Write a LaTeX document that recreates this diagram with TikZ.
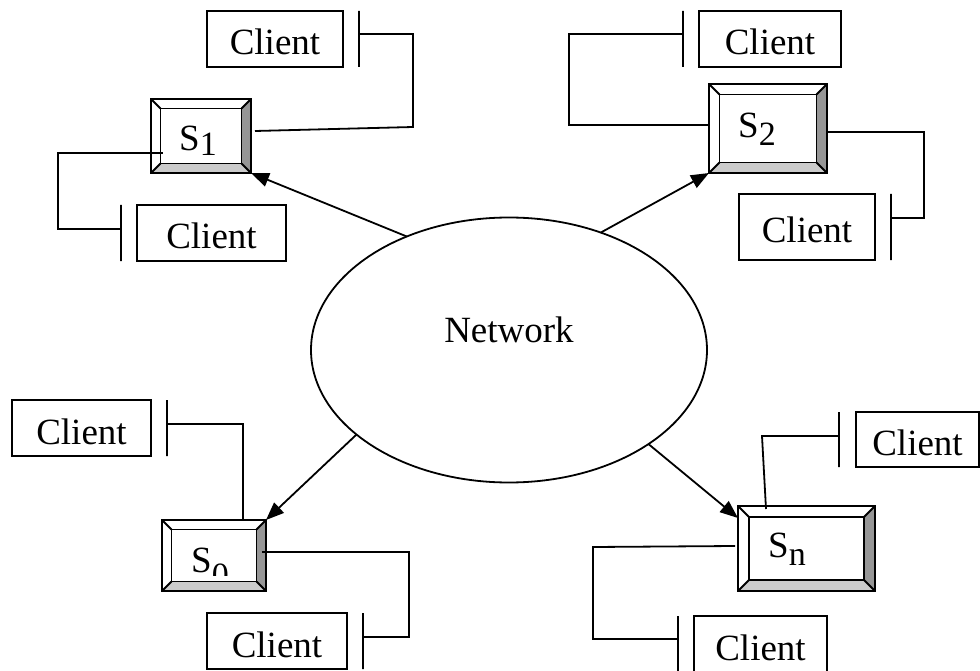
\documentclass[tikz,border=0pt]{standalone}
\usepackage{fontspec}
\setmainfont{Liberation Serif}
\usetikzlibrary{shapes.geometric,arrows.meta,calc}
\definecolor{bevdark}{HTML}{969696}
\definecolor{bevlight}{HTML}{CBCBCB}
\newcommand\bevelbox[2]{%
  \fill[bevdark] (#1.north east) -- (#1.south east) -- ([shift={(-#2,-#2)}]#1.south east) -- ([shift={(-#2,#2)}]#1.north east) -- cycle;
  \fill[bevlight] (#1.south west) -- (#1.south east) -- ([shift={(-#2,-#2)}]#1.south east) -- ([shift={(#2,-#2)}]#1.south west) -- cycle;
  \draw[boxline] ([shift={(#2,#2)}]#1.north west) rectangle ([shift={(-#2,-#2)}]#1.south east);
  \draw[boxline] (#1.north west) -- ([shift={(#2,#2)}]#1.north west)
                 (#1.north east) -- ([shift={(-#2,#2)}]#1.north east)
                 (#1.south west) -- ([shift={(#2,-#2)}]#1.south west)
                 (#1.south east) -- ([shift={(-#2,-#2)}]#1.south east);
  \draw[boxline] (#1.north west) rectangle (#1.south east);
}
\newcommand\subnum[2]{\raisebox{-#1pt}{\fontsize{34}{34}\selectfont #2}}
\begin{document}
\begin{tikzpicture}[x=1pt,y=-1pt,
  conn/.style={line width=1.8pt},
  boxline/.style={line width=1.8pt},
  client/.style={draw,line width=1.8pt,inner sep=0pt,outer sep=0pt,minimum height=56pt,text height=32pt,text depth=0pt,font=\fontsize{37}{40}\selectfont},
  bar/.style={draw,line width=1.8pt,inner sep=0pt,outer sep=0pt,minimum width=0pt,minimum height=56pt},
  server/.style={draw,line width=1.8pt,inner sep=0pt,outer sep=0pt},
  slabel/.style={anchor=base west,inner sep=0pt,font=\fontsize{37}{40}\selectfont},
  arr/.style={line width=1.8pt,-{Triangle[length=18pt,width=14pt]}},
]
\useasboundingbox (0,0) rectangle (980,671);
\clip (0,0) rectangle (980,671);

% network
\node[ellipse,draw,line width=1.8pt,minimum width=396pt,minimum height=265pt,inner sep=0pt,outer sep=0pt] (net) at (509,350) {};
\node[inner sep=0pt,font=\fontsize{37}{40}\selectfont,anchor=base] (nettext) at (509,342) {Network};

% servers
\node[server,minimum width=100pt,minimum height=74pt] (s1) at (201,136) {};
\node[server,minimum width=118pt,minimum height=89pt] (s2) at (768,128.5) {};
\node[server,minimum width=104pt,minimum height=71pt] (s0) at (214,555.5) {};
\node[server,minimum width=137pt,minimum height=85pt] (sn) at (806.5,548.5) {};
\bevelbox{s1}{9.5}
\bevelbox{s2}{10.5}
\bevelbox{s0}{9.5}
\bevelbox{sn}{11}
\node[slabel] (l1) at (179,151) {S\subnum{5}{1}};
\node[slabel] (l2) at (738,138) {S\subnum{8}{2}};
\begin{scope}
  \clip (172,529) rectangle (256,575);
  \node[slabel] (l0) at (191,572) {S\subnum{14}{0}};
\end{scope}
\node[slabel] (ln) at (768,557) {S\subnum{8}{n}};

% clients
\node[client,minimum width=136pt] (c1t) at (275,39) {Client};
\node[client,minimum width=149pt] (c1b) at (211.5,233) {Client};
\node[client,minimum width=142pt] (c2t) at (770,39) {Client};
\node[client,minimum width=136pt,minimum height=66pt] (c2b) at (807,227) {Client};
\node[client,minimum width=139pt] (c0t) at (81.5,428) {Client};
\node[client,minimum width=140pt] (c0b) at (277,641) {Client};
\node[client,minimum width=123pt,minimum height=55pt] (cnt) at (917.5,439.5) {Client};
\node[client,minimum width=133pt] (cnb) at (760.5,644) {Client};

% bars
\node[bar] (b1t) at (359,39) {};
\node[bar] (b1b) at (121,233) {};
\node[bar] (b2t) at (683,39) {};
\node[bar,minimum height=66pt] (b2b) at (891,227) {};
\node[bar] (b0t) at (167,428) {};
\node[bar] (b0b) at (363,641) {};
\node[bar,minimum height=55pt] (bnt) at (839,439.5) {};
\node[bar] (bnb) at (678,644) {};

% client connectors
\draw[conn] ($(b1t)+(0,-5)$) -- (413,34) -- (413,127) -- ($(s1.east)+(4,-5)$);
\draw[conn] ($(b1b)+(0,-4)$) -- (58,229) -- (58,153) -- ($(s1.west)+(12,17)$);
\draw[conn] ($(b2t)+(0,-5)$) -- (569,34) -- (569,125) -- ($(s2.west)+(0,-3.5)$);
\draw[conn] ($(b2b)+(0,-9)$) -- (924,218) -- (924,132) -- ($(s2.east)+(0,3.5)$);
\draw[conn] ($(b0t)+(0,-4)$) -- (243,424) -- ($(s0.north)+(29,0)$);
\draw[conn] ($(b0b)+(0,-4)$) -- (409,637) -- (409,552) -- ($(s0.east)+(-4,-3.5)$);
\draw[conn] ($(bnt)+(0,-3.5)$) -- (762,436) -- ($(sn.north)+(-40.5,3)$);
\draw[conn] ($(bnb)+(0,-5)$) -- (593,639) -- (593,547) -- ($(sn.west)+(-3,-2.5)$);

% arrows from the network
\draw[arr] (net.132) -- (s1.south east);
\draw[arr] (net.52.7) -- (s2.south west);
\draw[arr] (net.209.7) -- (s0.north east);
\draw[arr] (net.326.4) -- ($(sn.north west)+(0,12)$);
\end{tikzpicture}
\end{document}
